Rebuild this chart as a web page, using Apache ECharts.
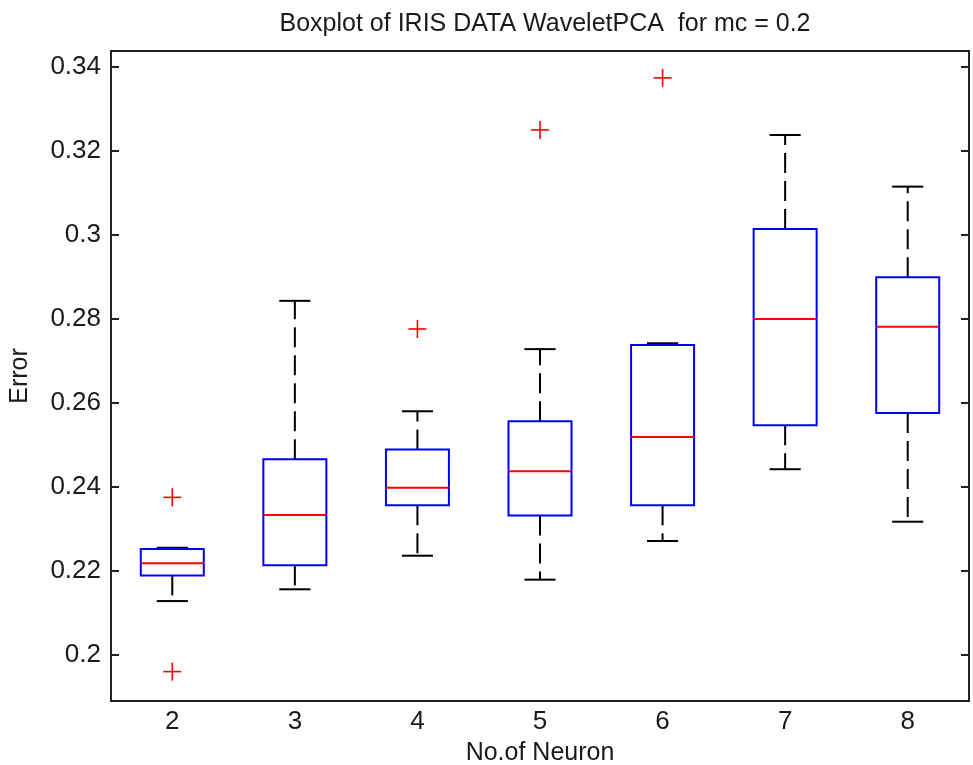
<!DOCTYPE html>
<html>
<head>
<meta charset="utf-8">
<script src="https://cdn.jsdelivr.net/npm/echarts@6/dist/echarts.min.js"></script>
<style>
  html, body { margin: 0; padding: 0; background: #fff; }
  #main { width: 973px; height: 765px; }
</style>
</head>
<body>
<div id="main"></div>
<script>
  // No. of neurons
  var categories = ['2', '3', '4', '5', '6', '7', '8'];
  var lowerWhisker = [0.2128, 0.2156, 0.2236, 0.2179, 0.2271, 0.2442, 0.2317];
  var q1 = [0.2189, 0.2213, 0.2356, 0.2332, 0.2356, 0.2547, 0.2576];
  var median = [0.2218, 0.2333, 0.2398, 0.2437, 0.2519, 0.2800, 0.2781];
  var q3 = [0.2252, 0.2466, 0.2489, 0.2556, 0.2738, 0.3014, 0.2899];
  var upperWhisker = [0.2255, 0.2843, 0.2580, 0.2728, 0.2742, 0.3238, 0.3115];
  // [category index, value]
  var outliers = [[0, 0.2375], [0, 0.1960], [2, 0.2776], [3, 0.3250], [4, 0.3374]];
  var yTicks = [0.2, 0.22, 0.24, 0.26, 0.28, 0.3, 0.32, 0.34];

  var font = 'Liberation Sans, Arial, sans-serif';

  var boxData = categories.map(function (c, i) {
    return [i, lowerWhisker[i], q1[i], median[i], q3[i], upperWhisker[i]];
  });

  var chart = echarts.init(document.getElementById('main'));

  function boxItem(params, api) {
    var idx = api.value(0);
    var bw = api.size([1, 0])[0];
    var half = bw * 0.257;
    var capHalf = bw * 0.127;
    var x = api.coord([idx, 0])[0];
    var yLo = api.coord([idx, api.value(1)])[1];
    var yQ1 = api.coord([idx, api.value(2)])[1];
    var yMed = api.coord([idx, api.value(3)])[1];
    var yQ3 = api.coord([idx, api.value(4)])[1];
    var yHi = api.coord([idx, api.value(5)])[1];
    var black = { stroke: '#000', lineWidth: 2 };
    var dashed = { stroke: '#000', lineWidth: 2, lineDash: [20, 8] };
    return {
      type: 'group',
      children: [
        { type: 'line', shape: { x1: x, y1: yQ3, x2: x, y2: yHi }, style: dashed },
        { type: 'line', shape: { x1: x, y1: yQ1, x2: x, y2: yLo }, style: dashed },
        { type: 'line', shape: { x1: x - capHalf, y1: yHi, x2: x + capHalf, y2: yHi }, style: black },
        { type: 'line', shape: { x1: x - capHalf, y1: yLo, x2: x + capHalf, y2: yLo }, style: black },
        { type: 'rect', shape: { x: x - half, y: yQ3, width: half * 2, height: yQ1 - yQ3 },
          style: { fill: '#fff', stroke: '#0000ff', lineWidth: 2 } },
        { type: 'line', shape: { x1: x - half, y1: yMed, x2: x + half, y2: yMed },
          style: { stroke: '#ff0000', lineWidth: 2 } }
      ]
    };
  }

  function plusItem(params, api) {
    var p = api.coord([api.value(0), api.value(1)]);
    var s = 9;
    var st = { stroke: '#ff0000', lineWidth: 1.6 };
    return {
      type: 'group',
      children: [
        { type: 'line', shape: { x1: p[0] - s, y1: p[1], x2: p[0] + s, y2: p[1] }, style: st },
        { type: 'line', shape: { x1: p[0], y1: p[1] - s, x2: p[0], y2: p[1] + s }, style: st }
      ]
    };
  }

  var option = {
    animation: false,
    backgroundColor: '#fff',
    title: {
      text: 'Boxplot of IRIS DATA WaveletPCA  for mc = 0.2',
      left: 540,
      top: 7,
      textAlign: 'center',
      textStyle: { fontFamily: font, fontSize: 25, fontWeight: 'normal', color: '#1a1a1a' }
    },
    grid: {
      left: 111, right: 4, top: 51, bottom: 64,
      outerBoundsMode: 'none',
      containLabel: false,
      show: true, borderColor: '#222', borderWidth: 2, backgroundColor: '#fff'
    },
    xAxis: {
      type: 'category',
      data: categories,
      boundaryGap: true,
      name: 'No.of Neuron',
      nameLocation: 'middle',
      nameGap: 40,
      nameTextStyle: { fontFamily: font, fontSize: 25, color: '#1a1a1a' },
      axisLine: { show: false },
      axisTick: { show: false },
      splitLine: { show: false },
      axisLabel: { fontFamily: font, fontSize: 26, color: '#1a1a1a', margin: 8 }
    },
    yAxis: [{
      type: 'value',
      min: 0.189,
      max: 0.3438,
      name: 'Error',
      nameLocation: 'middle',
      nameGap: 78,
      nameTextStyle: { fontFamily: font, fontSize: 25, color: '#1a1a1a' },
      axisLine: { show: false },
      splitLine: { show: false },
      axisTick: { show: true, inside: true, length: 8, customValues: yTicks,
        lineStyle: { color: '#222', width: 2 } },
      axisLabel: {
        fontFamily: font, fontSize: 26, color: '#1a1a1a', margin: 10,
        customValues: yTicks,
        formatter: function (v) { return String(Number(v.toFixed(2))); }
      }
    }, {
      type: 'value',
      position: 'right',
      min: 0.189,
      max: 0.3438,
      axisLine: { show: false },
      splitLine: { show: false },
      axisLabel: { show: false },
      axisTick: { show: true, inside: true, length: 8, customValues: yTicks,
        lineStyle: { color: '#222', width: 2 } }
    }],
    series: [{
      type: 'custom',
      renderItem: boxItem,
      data: boxData,
      encode: { x: 0, y: [1, 2, 3, 4, 5] },
      z: 3
    }, {
      type: 'custom',
      renderItem: plusItem,
      data: outliers,
      encode: { x: 0, y: 1 },
      z: 4
    }]
  };

  chart.setOption(option);
</script>
</body>
</html>
